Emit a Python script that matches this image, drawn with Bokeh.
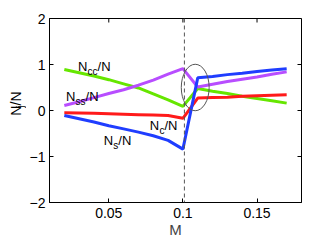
import math
from bokeh.plotting import figure
from bokeh.layouts import row
from bokeh.models import Range1d, FixedTicker, Span
from bokeh.embed import file_html
from bokeh.resources import INLINE
from bokeh.core.properties import value

# ---- data ----
M = [0.02, 0.03, 0.04, 0.05, 0.06, 0.07, 0.08, 0.09, 0.10,
     0.11, 0.12, 0.13, 0.14, 0.15, 0.16, 0.17]
Ncc = [0.89, 0.82, 0.75, 0.67, 0.58, 0.49, 0.36, 0.23, 0.09,
       0.48, 0.42, 0.37, 0.31, 0.26, 0.21, 0.16]
Nss = [0.11, 0.19, 0.28, 0.37, 0.45, 0.55, 0.66, 0.79, 0.91,
       0.51, 0.57, 0.63, 0.68, 0.73, 0.79, 0.84]
Nc = [-0.05, -0.055, -0.06, -0.07, -0.08, -0.09, -0.10, -0.11, -0.17,
      0.27, 0.28, 0.29, 0.31, 0.32, 0.33, 0.34]
Ns = [-0.11, -0.18, -0.25, -0.33, -0.40, -0.47, -0.55, -0.65, -0.84,
      0.71, 0.74, 0.78, 0.81, 0.85, 0.88, 0.91]
M_crit = 0.101
x_min, x_max = 0.01, 0.18
y_min, y_max = -2, 2
x_ticks = [0.05, 0.1, 0.15]
y_ticks = [-2, -1, 0, 1, 2]
x_tick_labels = {0.05: "0.05", 0.1: "0.1", 0.15: "0.15"}
y_tick_labels = {-2: "\u22122", -1: "\u22121", 0: "0", 1: "1", 2: "2"}

FONT = "Liberation Sans"
H = 240
W_LAB = 26
W_MAIN = 294

p = figure(width=W_MAIN, height=H, output_backend="svg", toolbar_location=None,
           x_range=Range1d(x_min, x_max), y_range=Range1d(y_min, y_max),
           min_border_left=23, min_border_right=19, min_border_top=18,
           min_border_bottom=29)
p.grid.visible = False
p.outline_line_color = "black"
p.outline_line_width = 1
p.background_fill_color = "white"
p.border_fill_color = "white"

for ax, ticks, labels in ((p.xaxis[0], x_ticks, x_tick_labels),
                          (p.yaxis[0], y_ticks, y_tick_labels)):
    ax.ticker = FixedTicker(ticks=ticks)
    ax.major_label_overrides = labels
    ax.major_tick_in = 4
    ax.major_tick_out = 0
    ax.minor_tick_line_color = None
    ax.major_label_text_font = FONT
    ax.major_label_text_font_size = "14px"
    ax.major_label_text_color = "black"
    ax.axis_line_color = "black"
    ax.major_tick_line_color = "black"

p.xaxis[0].major_label_standoff = 5
p.yaxis[0].major_label_standoff = 4
p.xaxis[0].axis_label = "M"
p.xaxis[0].axis_label_text_font = FONT
p.xaxis[0].axis_label_text_font_size = "15px"
p.xaxis[0].axis_label_text_font_style = "normal"
p.xaxis[0].axis_label_standoff = 0

# mirrored inward ticks on top and right (dash markers half clipped by the frame)
p.scatter(x=x_ticks, y=[y_max] * len(x_ticks), marker="dash", size=8, angle=math.pi / 2,
          line_color="black", line_width=1)
p.scatter(x=[x_max] * len(y_ticks), y=y_ticks, marker="dash", size=8, angle=0,
          line_color="black", line_width=1)

# critical M dashed line
p.add_layout(Span(location=M_crit, dimension="height", line_dash="4 3",
                  line_color="#555555", line_width=1))

# curves
p.line(M, Ncc, line_color="#66e600", line_width=3)
p.line(M, Nss, line_color="#b84dff", line_width=3)
p.line(M, Nc, line_color="#ff1a1a", line_width=3)
p.line(M, Ns, line_color="#1f3dff", line_width=3)

# ellipse around jump
p.ellipse(x=[0.1083], y=[0.50], width=[0.0188], height=[1.01],
          fill_color=None, line_color="#555555", line_width=1)


def mlabel(x, y, sub):
    """N_sub/N label in data coords; anchor at left baseline of the N."""
    p.text(x=[x], y=[y], text=["N"], text_font=value(FONT), text_font_size="13px",
           text_align="left", text_baseline="alphabetic", text_color="black")
    sw = 5.0 * len(sub)
    p.text(x=[x], y=[y], text=[sub], text_font=value(FONT), text_font_size="10px",
           text_align="left", text_baseline="alphabetic", text_color="black",
           x_offset=9.6, y_offset=5)
    p.text(x=[x], y=[y], text=["/N"], text_font=value(FONT), text_font_size="13px",
           text_align="left", text_baseline="alphabetic", text_color="black",
           x_offset=9.6 + sw)


mlabel(0.0292, 0.957, "cc")
mlabel(0.0211, 0.30, "ss")
mlabel(0.0777, -0.32, "c")
mlabel(0.0466, -0.647, "s")

# narrow strip holding the rotated y-axis label N_j/N (pixel coordinates)
lab = figure(width=W_LAB, height=H, output_backend="svg", toolbar_location=None,
             x_range=Range1d(0, W_LAB), y_range=Range1d(0, H),
             min_border=0, min_border_left=0, min_border_right=0,
             min_border_top=0, min_border_bottom=0)
lab.axis.visible = False
lab.grid.visible = False
lab.outline_line_color = None
lab.background_fill_color = "white"
lab.border_fill_color = "white"
bx, by = 15.5, 113.3
lab.text(x=[bx], y=[by], text=["N"], angle=math.pi / 2, text_font=value(FONT),
         text_font_size="14px", text_align="left", text_baseline="alphabetic",
         text_color="black")
lab.text(x=[bx + 4], y=[by + 10.3], text=["j"], angle=math.pi / 2, text_font=value(FONT),
         text_font_size="10px", text_align="left", text_baseline="alphabetic",
         text_color="black")
lab.text(x=[bx], y=[by + 13.3], text=["/N"], angle=math.pi / 2, text_font=value(FONT),
         text_font_size="14px", text_align="left", text_baseline="alphabetic",
         text_color="black")

layout = row(lab, p, spacing=0)
open("out.html", "w").write(file_html(layout, INLINE))
